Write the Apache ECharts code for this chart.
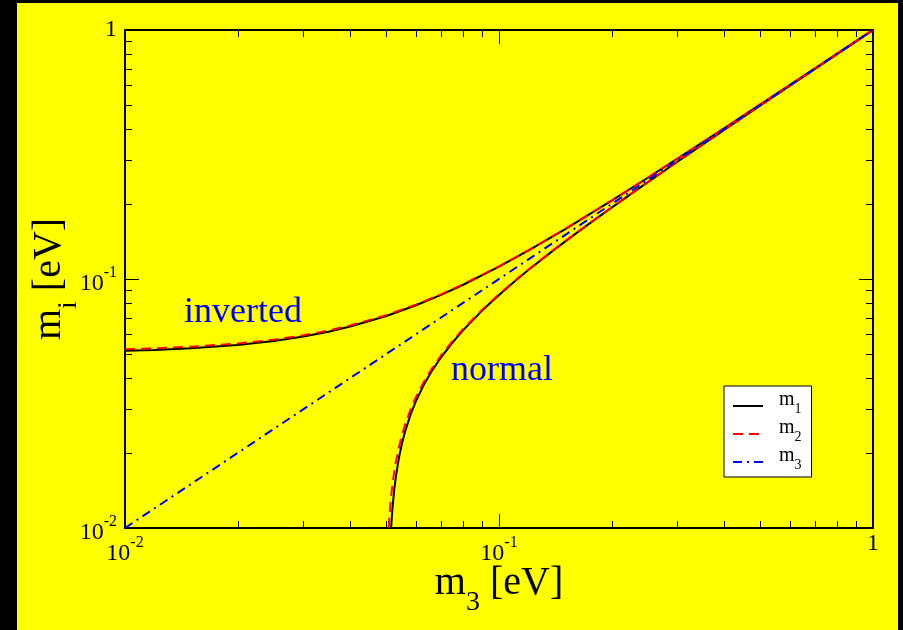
<!DOCTYPE html>
<html>
<head>
<meta charset="utf-8">
<script src="https://cdn.jsdelivr.net/npm/echarts@6/dist/echarts.min.js"></script>
<style>
  html, body { margin: 0; padding: 0; background: #000; }
  #chart { width: 903px; height: 630px; }
</style>
</head>
<body>
<div id="chart"></div>
<script>
// Inverted hierarchy: m3 is the lightest state
const invM3 = [0.01, 0.012, 0.015, 0.02, 0.025, 0.03, 0.035, 0.04, 0.05, 0.06, 0.07, 0.08,
  0.1, 0.12, 0.15, 0.2, 0.25, 0.3, 0.4, 0.5, 0.6, 0.7, 0.8, 1.0];
const invM1 = [0.05148, 0.05190, 0.05268, 0.05431, 0.05635, 0.05874, 0.06144, 0.06442, 0.07106,
  0.07842, 0.08631, 0.09460, 0.11203, 0.13019, 0.15827, 0.20628, 0.25505, 0.30422, 0.40318,
  0.50255, 0.60212, 0.70182, 0.80159, 1.00127];
const invM2 = [0.05225, 0.05267, 0.05343, 0.05505, 0.05705, 0.05941, 0.06209, 0.06504, 0.07162,
  0.07893, 0.08678, 0.09503, 0.11238, 0.13050, 0.15852, 0.20647, 0.25521, 0.30435, 0.40328,
  0.50262, 0.60219, 0.70188, 0.80164, 1.00131];

// Normal hierarchy: m3 is the heaviest state
const norM3ForM1 = [0.05148, 0.0516, 0.0518, 0.052, 0.0525, 0.053, 0.054, 0.055, 0.056, 0.058,
  0.06, 0.063, 0.066, 0.07, 0.075, 0.08, 0.09, 0.1, 0.11, 0.12, 0.14, 0.16, 0.18, 0.2, 0.25,
  0.3, 0.4, 0.5, 0.6, 0.7, 0.8, 1.0];
const norM1 = [0.01, 0.01061, 0.01154, 0.01241, 0.01436, 0.01609, 0.01913, 0.02179, 0.02421,
  0.02853, 0.03240, 0.03767, 0.04250, 0.04848, 0.05545, 0.06205, 0.07450, 0.08631, 0.09772,
  0.10886, 0.13058, 0.15182, 0.17277, 0.19352, 0.24485, 0.29572, 0.39680, 0.49744, 0.59787,
  0.69818, 0.79840, 0.99872];
const norM3ForM2 = [0.0507, 0.0509, 0.0512, 0.0516, 0.052, 0.0525, 0.053, 0.054, 0.055, 0.056,
  0.058, 0.06, 0.063, 0.066, 0.07, 0.075, 0.08, 0.09, 0.1, 0.11, 0.12, 0.14, 0.16, 0.18, 0.2,
  0.25, 0.3, 0.4, 0.5, 0.6, 0.7, 0.8, 1.0];
const norM2 = [0.01002, 0.01099, 0.01231, 0.01388, 0.01530, 0.01692, 0.01841, 0.02112, 0.02356,
  0.02581, 0.02990, 0.03362, 0.03872, 0.04343, 0.04930, 0.05617, 0.06269, 0.07503, 0.08678,
  0.09813, 0.10922, 0.13088, 0.15209, 0.17300, 0.19373, 0.24501, 0.29586, 0.39690, 0.49752,
  0.59794, 0.69823, 0.79845, 0.99876];

// m3 against itself
const m3Line = [0.01, 1];

// Axis range and minor tick positions (both axes share them)
const axisMin = 0.01;
const axisMax = 1;
const minorTickValues = [0.02, 0.03, 0.04, 0.05, 0.06, 0.07, 0.08, 0.09,
  0.2, 0.3, 0.4, 0.5, 0.6, 0.7, 0.8, 0.9];

const SERIF = '"Liberation Serif", "Times New Roman", serif';
const zip = (xs, ys) => xs.map((x, i) => [x, ys[i]]);

function powerLabel(v) {
  const e = Math.round(Math.log10(v));
  return e === 0 ? '{n|1}' : '{n|10}{s|' + e + '}';
}
// "10" sits at the bottom of the line, the exponent is lifted by its bottom padding
const tickRich = {
  n: { fontSize: 24, height: 24, lineHeight: 24, fontFamily: SERIF, color: '#000', verticalAlign: 'bottom' },
  s: { fontSize: 16, height: 16, lineHeight: 34, fontFamily: SERIF, color: '#000', verticalAlign: 'bottom', padding: [3, 0, 15, 0] }
};
function nameRich(mainLineHeight) {
  return {
    m: { fontSize: 40, height: 40, lineHeight: mainLineHeight, fontFamily: SERIF, color: '#000', verticalAlign: 'bottom', padding: [0, 0, 14, 0] },
    s: { fontSize: 28, height: 28, lineHeight: 28, fontFamily: SERIF, color: '#000', verticalAlign: 'bottom' }
  };
}

const tickStyle = { show: true, inside: true, length: 14, lineStyle: { color: '#000', width: 1 } };
const lineAxis = { show: true, lineStyle: { color: '#000', width: 2 } };

function logAxis(extra) {
  return Object.assign({
    type: 'log', logBase: 10, min: axisMin, max: axisMax,
    axisLine: lineAxis, axisTick: tickStyle,
    splitLine: { show: false }, minorTick: { show: false }, minorSplitLine: { show: false }
  }, extra);
}

// Short minor ticks on all four sides, placed through the axis scales
function minorTicks(dim) {
  return {
    type: 'custom', silent: true, clip: false, z: 6,
    data: minorTickValues.map(v => dim === 'x' ? [v, 0.1] : [0.1, v]),
    renderItem(params, api) {
      const style = { stroke: '#000', lineWidth: 1 };
      if (dim === 'x') {
        const v = api.value(0);
        const b = api.coord([v, axisMin]);
        const t = api.coord([v, axisMax]);
        const x = Math.round(b[0]) + 0.5;
        return { type: 'group', children: [
          { type: 'line', shape: { x1: x, y1: b[1], x2: x, y2: b[1] - 7 }, style },
          { type: 'line', shape: { x1: x, y1: t[1], x2: x, y2: t[1] + 7 }, style }
        ] };
      }
      const v = api.value(1);
      const l = api.coord([axisMin, v]);
      const r = api.coord([axisMax, v]);
      const y = Math.round(l[1]) + 0.5;
      return { type: 'group', children: [
        { type: 'line', shape: { x1: l[0], y1: y, x2: l[0] + 7, y2: y }, style },
        { type: 'line', shape: { x1: r[0], y1: y, x2: r[0] - 7, y2: y }, style }
      ] };
    }
  };
}

const blackLine = { color: '#000', width: 2 };
const redLine = { color: '#ff0000', width: 2, type: [10, 6] };
const blueLine = { color: '#0000ff', width: 2, type: [9, 5, 2, 5] };

function curve(name, data, lineStyle, z) {
  return {
    name, type: 'line', data, symbol: 'none', z,
    lineStyle, itemStyle: { color: lineStyle.color },
    emphasis: { disabled: true }
  };
}

const chart = echarts.init(document.getElementById('chart'), null, { renderer: 'canvas' });
chart.setOption({
  animation: false,
  backgroundColor: '#000',
  grid: { left: 125, top: 30, right: 30, bottom: 102, containLabel: false, outerBoundsMode: 'none' },
  xAxis: [
    logAxis({
      position: 'bottom',
      axisLabel: { margin: 4, formatter: powerLabel, rich: tickRich, showMinLabel: true, showMaxLabel: true },
      name: '{m|m}{s|3}{m| [eV]}', nameLocation: 'middle', nameGap: 35, nameMoveOverlap: false,
      nameTextStyle: { rich: nameRich(54) }
    }),
    logAxis({ position: 'top', axisLabel: { show: false } })
  ],
  yAxis: [
    logAxis({
      position: 'left',
      axisLabel: { margin: 8, formatter: powerLabel, rich: tickRich, showMinLabel: true, showMaxLabel: true },
      name: '{m|m}{s|i}{m| [eV]}', nameLocation: 'middle', nameGap: 42, nameMoveOverlap: false,
      nameTextStyle: { rich: nameRich(40) }
    }),
    logAxis({ position: 'right', axisLabel: { show: false } })
  ],
  legend: {
    orient: 'vertical', left: 724, top: 386,
    data: ['m1', 'm2', 'm3'],
    selectedMode: false,
    itemWidth: 30, itemHeight: 14, itemGap: 2,
    padding: [4, 10, 5, 8],
    backgroundColor: '#fff', borderColor: '#000', borderWidth: 1, borderRadius: 0,
    // line-only keys: the marker in the middle of each key is hidden
    itemStyle: { color: 'rgba(0,0,0,0)', borderColor: 'rgba(0,0,0,0)', borderWidth: 0 },
    formatter: name => '{g|}{m|m}{s|' + name.slice(1) + '}',
    textStyle: {
      rich: {
        g: { width: 11 },
        m: { fontSize: 20, lineHeight: 20, fontFamily: SERIF, color: '#000', verticalAlign: 'bottom', padding: [0, 0, 6, 0] },
        s: { fontSize: 14, lineHeight: 14, fontFamily: SERIF, color: '#000', verticalAlign: 'bottom' }
      }
    }
  },
  graphic: [
    { type: 'rect', z: -100, silent: true, shape: { x: 17, y: 3, width: 881, height: 627 }, style: { fill: '#ffff00' } },
    { type: 'text', z: 10, silent: true, style: { x: 184, y: 313, text: 'inverted', font: '36px ' + SERIF, fill: '#0000ff', verticalAlign: 'middle' } },
    { type: 'text', z: 10, silent: true, style: { x: 451, y: 371, text: 'normal', font: '36px ' + SERIF, fill: '#0000ff', verticalAlign: 'middle' } }
  ],
  series: [
    curve('m1', zip(invM3, invM1), blackLine, 3),
    curve('m1', zip(norM3ForM1, norM1), blackLine, 3),
    curve('m2', zip(invM3, invM2), redLine, 4),
    curve('m2', zip(norM3ForM2, norM2), redLine, 4),
    curve('m3', zip(m3Line, m3Line), blueLine, 5),
    minorTicks('x'),
    minorTicks('y')
  ]
});
</script>
</body>
</html>
